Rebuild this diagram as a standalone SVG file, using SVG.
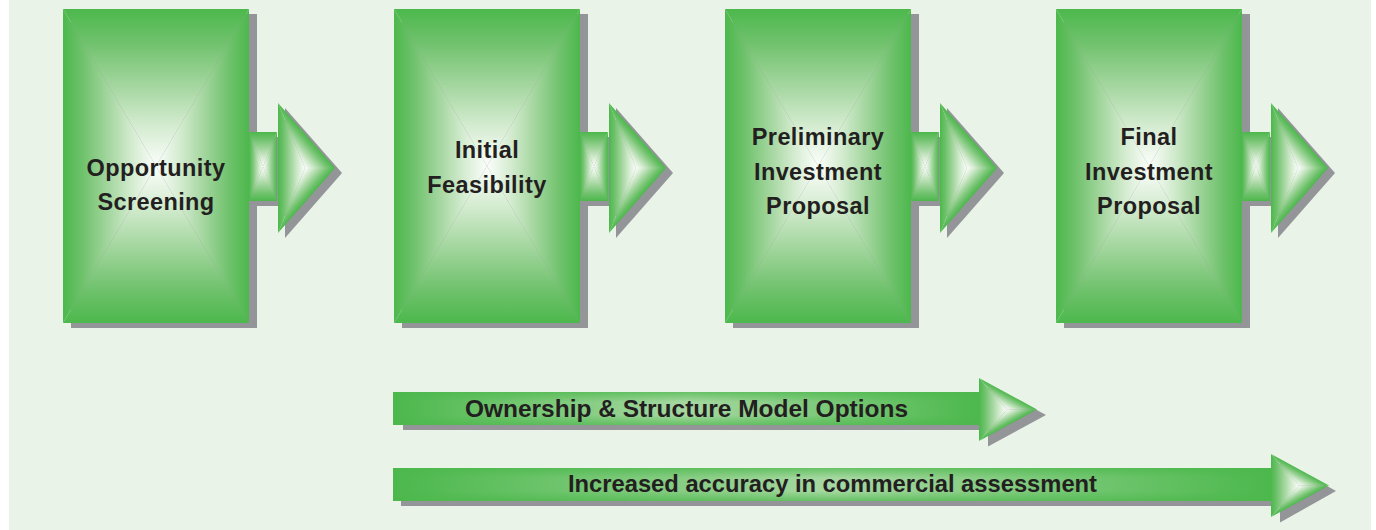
<svg xmlns="http://www.w3.org/2000/svg" xmlns:xlink="http://www.w3.org/1999/xlink" width="1376" height="530" viewBox="0 0 1376 530">
<defs>
<style>
.sh{fill:#939598}
.t{font-family:"Liberation Sans",Arial,Helvetica,sans-serif;font-weight:bold;font-size:23.5px;fill:#231f20;text-anchor:middle;letter-spacing:0.4px}
.tb{font-family:"Liberation Sans",Arial,Helvetica,sans-serif;font-weight:bold;font-size:24px;fill:#231f20}
</style>
<linearGradient id="gT" x1="0" y1="0" x2="0" y2="1">
<stop offset="0" stop-color="#4cb84c"/><stop offset="0.2" stop-color="#6dc16a"/><stop offset="0.5" stop-color="#a6d7a1"/><stop offset="0.75" stop-color="#d5ecd1"/><stop offset="1" stop-color="#fbfefb"/>
</linearGradient>
<linearGradient id="gB" xlink:href="#gT" x1="0" y1="1" x2="0" y2="0"/>
<linearGradient id="gL" xlink:href="#gT" x1="0" y1="0" x2="1" y2="0"/>
<linearGradient id="gR" xlink:href="#gT" x1="1" y1="0" x2="0" y2="0"/>
<linearGradient id="hL" xlink:href="#gT" gradientUnits="userSpaceOnUse" x1="0" y1="0" x2="27" y2="0"/>
<linearGradient id="hU" xlink:href="#gT" gradientUnits="userSpaceOnUse" x1="43.96" y1="-14.87" x2="27" y2="0"/>
<linearGradient id="hD" xlink:href="#gT" gradientUnits="userSpaceOnUse" x1="43.96" y1="14.87" x2="27" y2="0"/>
<linearGradient id="sL" xlink:href="#gT" gradientUnits="userSpaceOnUse" x1="0" y1="0" x2="28" y2="0"/>
<linearGradient id="sU" xlink:href="#gT" gradientUnits="userSpaceOnUse" x1="34.83" y1="-12.58" x2="28" y2="0"/>
<linearGradient id="sD" xlink:href="#gT" gradientUnits="userSpaceOnUse" x1="34.83" y1="12.58" x2="28" y2="0"/>
<linearGradient id="shaftH" x1="0" y1="0" x2="1" y2="0">
<stop offset="0" stop-color="#4cb84c"/><stop offset="0.5" stop-color="#a6d8a1"/><stop offset="1" stop-color="#4cb84c"/>
</linearGradient>
<linearGradient id="shaftV" x1="0" y1="0" x2="0" y2="1">
<stop offset="0" stop-color="#4cb84c" stop-opacity="0.7"/><stop offset="0.3" stop-color="#4cb84c" stop-opacity="0"/><stop offset="0.7" stop-color="#4cb84c" stop-opacity="0"/><stop offset="1" stop-color="#4cb84c" stop-opacity="0.7"/>
</linearGradient>
<g id="box">
<polygon points="0,0 186,0 93,157" fill="url(#gT)"/>
<polygon points="0,314 186,314 93,157" fill="url(#gB)"/>
<polygon points="0,0 0,314 93,157" fill="url(#gL)"/>
<polygon points="186,0 186,314 93,157" fill="url(#gR)"/>
</g>
<g id="bar">
<polygon points="0,0 28,0 14,34.5" fill="url(#gT)"/>
<polygon points="0,69 28,69 14,34.5" fill="url(#gB)"/>
<polygon points="0,0 0,69 14,34.5" fill="url(#gL)"/>
<polygon points="28,0 28,69 14,34.5" fill="url(#gR)"/>
</g>
<g id="head">
<polygon points="0,-65 0,65 27,0" fill="url(#hL)"/>
<polygon points="0,-65 57,0 27,0" fill="url(#hU)"/>
<polygon points="0,65 57,0 27,0" fill="url(#hD)"/>
</g>
<g id="shead">
<polygon points="0,-31.5 0,31.5 28,0" fill="url(#sL)"/>
<polygon points="0,-31.5 58,0 28,0" fill="url(#sU)"/>
<polygon points="0,31.5 58,0 28,0" fill="url(#sD)"/>
</g>
<g id="stage">
<rect class="sh" x="8" y="5" width="186" height="314"/>
<rect class="sh" x="194" y="128" width="28" height="69"/>
<polygon class="sh" points="222,99 222,229 279,164"/>
<use xlink:href="#box"/>
<use xlink:href="#bar" x="186" y="123"/>
<use xlink:href="#head" x="215" y="159"/>
</g>
</defs>
<rect x="9" y="0" width="1362" height="530" fill="#e9f3e7"/>
<g id="n1">
<use xlink:href="#stage" x="63" y="9"/>
<text class="t" x="156" y="176">Opportunity</text>
<text class="t" x="156" y="210">Screening</text>
</g>
<g id="n2">
<use xlink:href="#stage" x="394" y="9"/>
<text class="t" x="487" y="158">Initial</text>
<text class="t" x="487" y="193">Feasibility</text>
</g>
<g id="n3">
<use xlink:href="#stage" x="725" y="9"/>
<text class="t" x="818" y="145">Preliminary</text>
<text class="t" x="818" y="180">Investment</text>
<text class="t" x="818" y="214">Proposal</text>
</g>
<g id="n4">
<use xlink:href="#stage" x="1056" y="9"/>
<text class="t" x="1149" y="145">Final</text>
<text class="t" x="1149" y="180">Investment</text>
<text class="t" x="1149" y="214">Proposal</text>
</g>
<g id="connectors">
<g id="a1">
<rect class="sh" x="403" y="397" width="586" height="33"/>
<polygon class="sh" points="988,383.5 988,446.5 1046,415"/>
<rect x="393" y="392" width="587" height="33" fill="url(#shaftH)"/>
<rect x="393" y="392" width="587" height="33" fill="url(#shaftV)"/>
<use xlink:href="#shead" x="979" y="409.5"/>
<text class="tb" x="465" y="417" textLength="443" lengthAdjust="spacingAndGlyphs">Ownership &amp; Structure Model Options</text>
</g>
<g id="a2">
<rect class="sh" x="401" y="473" width="879" height="33"/>
<polygon class="sh" points="1280,459.5 1280,522.5 1336,491"/>
<rect x="393" y="468" width="879" height="33" fill="url(#shaftH)"/>
<rect x="393" y="468" width="879" height="33" fill="url(#shaftV)"/>
<use xlink:href="#shead" x="1271" y="485.5"/>
<text class="tb" x="568" y="492" textLength="529" lengthAdjust="spacingAndGlyphs">Increased accuracy in commercial assessment</text>
</g>
</g>
</svg>
